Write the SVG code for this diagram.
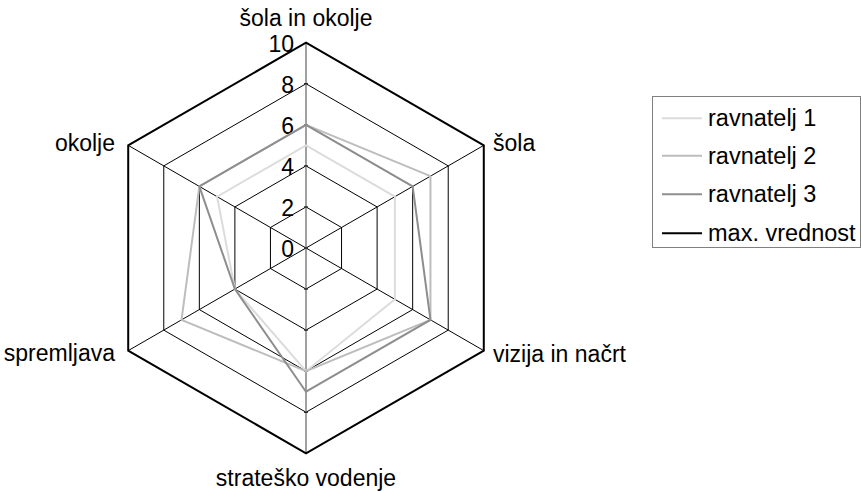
<svg xmlns="http://www.w3.org/2000/svg" width="861" height="491" viewBox="0 0 861 491">
<style>
text{font-family:"Liberation Sans",Arial,sans-serif;font-size:23px;fill:#000}
.lg{font-size:23.5px}
.grid{fill:none;stroke:#000;stroke-width:1}
.spoke{stroke:#000;stroke-width:1}
.axis{stroke:#808080;stroke-width:1.5}
.s{fill:none;stroke-width:2;stroke-linejoin:miter}
.r1{stroke:#dcdcdc}
.r2{stroke:#bdbdbd}
.r3{stroke:#8e8e8e}
.mx{stroke:#000}
.num{text-anchor:end}
</style>
<rect width="861" height="491" fill="#fff"/>
<g id="grid">
<polygon class="grid" points="306,206.94 341.56,227.47 341.56,268.53 306,289.06 270.44,268.53 270.44,227.47"/>
<polygon class="grid" points="306,165.88 377.12,206.94 377.12,289.06 306,330.12 234.88,289.06 234.88,206.94"/>
<polygon class="grid" points="306,124.82 412.67,186.41 412.67,309.59 306,371.18 199.33,309.59 199.33,186.41"/>
<polygon class="grid" points="306,83.76 448.23,165.88 448.23,330.12 306,412.24 163.77,330.12 163.77,165.88"/>
<line class="spoke" x1="306" y1="248" x2="483.79" y2="145.35"/>
<line class="spoke" x1="306" y1="248" x2="483.79" y2="350.65"/>
<line class="spoke" x1="306" y1="248" x2="128.21" y2="350.65"/>
<line class="spoke" x1="306" y1="248" x2="128.21" y2="145.35"/>
<line class="axis" x1="306" y1="42.7" x2="306" y2="453.3"/>
<g stroke="#000" stroke-width="1">
<line x1="304" y1="248" x2="308" y2="248"/>
<line x1="304" y1="206.94" x2="308" y2="206.94"/>
<line x1="304" y1="165.88" x2="308" y2="165.88"/>
<line x1="304" y1="124.82" x2="308" y2="124.82"/>
<line x1="304" y1="83.76" x2="308" y2="83.76"/>
<line x1="304" y1="289.06" x2="308" y2="289.06"/>
<line x1="304" y1="330.12" x2="308" y2="330.12"/>
<line x1="304" y1="371.18" x2="308" y2="371.18"/>
<line x1="304" y1="412.24" x2="308" y2="412.24"/>
</g>
</g>
<g id="axis-labels">
<text class="num" x="294" y="257">0</text>
<text class="num" x="294" y="216">2</text>
<text class="num" x="294" y="175">4</text>
<text class="num" x="294" y="134">6</text>
<text class="num" x="294" y="93">8</text>
<text class="num" x="294" y="52">10</text>
</g>
<g id="series">
<polygon id="ravnatelj-1" class="s r1" points="306,145.35 394.9,196.67 394.9,299.33 306,371.18 234.88,289.06 217.1,196.67"/>
<polygon id="ravnatelj-2" class="s r2" points="306,124.82 430.46,176.14 430.46,319.86 306,371.18 181.54,319.86 199.33,186.41"/>
<polygon id="ravnatelj-3" class="s r3" points="306,124.82 412.67,186.41 430.46,319.86 306,391.71 234.88,289.06 199.33,186.41"/>
<polygon id="max-vrednost" class="s mx" points="306,42.7 483.79,145.35 483.79,350.65 306,453.3 128.21,350.65 128.21,145.35"/>
</g>
<g id="cat-solainokolje"><text x="306" y="26" text-anchor="middle">šola in okolje</text></g>
<g id="cat-sola"><text x="493" y="150.5">šola</text></g>
<g id="cat-vizija"><text x="493" y="361.5">vizija in načrt</text></g>
<g id="cat-strateško"><text x="306" y="486" text-anchor="middle">strateško vodenje</text></g>
<g id="cat-spremljava"><text x="115" y="361" text-anchor="end">spremljava</text></g>
<g id="cat-okolje"><text x="115" y="151" text-anchor="end">okolje</text></g>
<g id="legend">
<rect x="652.5" y="96.5" width="208" height="151" fill="none" stroke="#808080" stroke-width="1"/>
<line class="s r1" x1="662" y1="118.3" x2="702" y2="118.3"/>
<text class="lg" x="708" y="126.3">ravnatelj 1</text>
<line class="s r2" x1="662" y1="155.7" x2="702" y2="155.7"/>
<text class="lg" x="708" y="163.7">ravnatelj 2</text>
<line class="s r3" x1="662" y1="194.3" x2="702" y2="194.3"/>
<text class="lg" x="708" y="202.3">ravnatelj 3</text>
<line class="s mx" x1="662" y1="233.3" x2="702" y2="233.3"/>
<text class="lg" x="708" y="241.3">max. vrednost</text>
</g>
</svg>
